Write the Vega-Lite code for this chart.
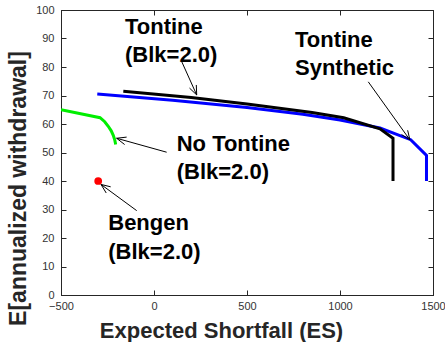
{
  "$schema": "https://vega.github.io/schema/vega-lite/v6.json",
  "width": 372,
  "height": 285,
  "autosize": {"type": "none"},
  "padding": {"left": 61, "top": 10, "right": 12, "bottom": 47},
  "background": "white",
  "config": {
    "font": "Liberation Sans",
    "view": {"stroke": "#262626", "strokeWidth": 1},
    "axis": {
      "domainColor": "#262626",
      "tickColor": "#262626",
      "labelColor": "#333333",
      "labelFont": "Liberation Sans",
      "labelFontSize": 11,
      "titleFont": "Liberation Sans",
      "titleFontSize": 22,
      "titleFontWeight": "bold",
      "titleColor": "#262626",
      "grid": false,
      "tickSize": -5,
      "format": "d",
      "labelFlush": false,
      "labelOverlap": false
    }
  },
  "datasets": {
    "lines": [
      {"series": "No Tontine", "i": 0, "x": -500, "y": 65},
      {"series": "No Tontine", "i": 1, "x": -290, "y": 62.2},
      {"series": "No Tontine", "i": 2, "x": -265, "y": 60.8},
      {"series": "No Tontine", "i": 3, "x": -246, "y": 59.2},
      {"series": "No Tontine", "i": 4, "x": -230, "y": 57.6},
      {"series": "No Tontine", "i": 5, "x": -219, "y": 56.0},
      {"series": "No Tontine", "i": 6, "x": -211, "y": 54.4},
      {"series": "No Tontine", "i": 7, "x": -206, "y": 52.8},
      {"series": "Tontine Synthetic", "i": 0, "x": -305, "y": 70.5},
      {"series": "Tontine Synthetic", "i": 1, "x": 100, "y": 68.3},
      {"series": "Tontine Synthetic", "i": 2, "x": 500, "y": 65.8},
      {"series": "Tontine Synthetic", "i": 3, "x": 800, "y": 63.4},
      {"series": "Tontine Synthetic", "i": 4, "x": 1000, "y": 61.4},
      {"series": "Tontine Synthetic", "i": 5, "x": 1215, "y": 58.6},
      {"series": "Tontine Synthetic", "i": 6, "x": 1380, "y": 54.5},
      {"series": "Tontine Synthetic", "i": 7, "x": 1465, "y": 49},
      {"series": "Tontine Synthetic", "i": 8, "x": 1465, "y": 40},
      {"series": "Tontine", "i": 0, "x": -165, "y": 71.5},
      {"series": "Tontine", "i": 1, "x": 200, "y": 69.3},
      {"series": "Tontine", "i": 2, "x": 500, "y": 67.0},
      {"series": "Tontine", "i": 3, "x": 850, "y": 64.0},
      {"series": "Tontine", "i": 4, "x": 1020, "y": 62.2},
      {"series": "Tontine", "i": 5, "x": 1215, "y": 58.3},
      {"series": "Tontine", "i": 6, "x": 1285, "y": 55},
      {"series": "Tontine", "i": 7, "x": 1285, "y": 40}
    ],
    "points": [
      {"series": "Bengen", "x": -300, "y": 40}
    ],
    "arrows": [
      {"x": 149, "y": 81.9, "x2": 229.6, "y2": 70.2},
      {"x": 227.4, "y": 73.7, "x2": 229.6, "y2": 70.2},
      {"x": 190.9, "y": 72.6, "x2": 229.6, "y2": 70.2},
      {"x": 1152, "y": 74.8, "x2": 1376, "y2": 54.4},
      {"x": 1363.7, "y": 57.8, "x2": 1376, "y2": 54.4},
      {"x": 1330.9, "y": 56.3, "x2": 1376, "y2": 54.4},
      {"x": 68, "y": 50.1, "x2": -201, "y2": 55.0},
      {"x": -158, "y": 52.8, "x2": -201, "y2": 55.0},
      {"x": -147.1, "y": 55.4, "x2": -201, "y2": 55.0},
      {"x": -93, "y": 29.6, "x2": -285, "y2": 38.8},
      {"x": -256.9, "y": 35.8, "x2": -285, "y2": 38.8},
      {"x": -232.9, "y": 37.96, "x2": -285, "y2": 38.8}
    ],
    "labels": [
      {"text": "Tontine", "x": -156, "y": 94.1},
      {"text": "(Blk=2.0)", "x": -156, "y": 84.2},
      {"text": "Tontine", "x": 758, "y": 89.5},
      {"text": "Synthetic", "x": 758, "y": 79.5},
      {"text": "No Tontine", "x": 122, "y": 53},
      {"text": "(Blk=2.0)", "x": 122, "y": 43.3},
      {"text": "Bengen", "x": -246, "y": 25.2},
      {"text": "(Blk=2.0)", "x": -246, "y": 15.2}
    ]
  },
  "resolve": {"axis": {"x": "independent", "y": "independent"}},
  "layer": [
    {
      "data": {"name": "lines"},
      "mark": {"type": "line", "strokeWidth": 3, "clip": true},
      "encoding": {
        "x": {
          "field": "x", "type": "quantitative",
          "scale": {"domain": [-500, 1500], "nice": false, "zero": false},
          "axis": {
            "orient": "bottom",
            "values": [-500, 0, 500, 1000, 1500],
            "title": "Expected Shortfall (ES)",
            "labelPadding": 10,
            "titleX": 160,
            "titleY": 35,
            "titleBaseline": "middle",
            "titleAlign": "center"
          }
        },
        "y": {
          "field": "y", "type": "quantitative",
          "scale": {"domain": [0, 100], "nice": false, "zero": false},
          "axis": {
            "orient": "left",
            "values": [0, 10, 20, 30, 40, 50, 60, 70, 80, 90, 100],
            "title": "E[annualized withdrawal]",
            "titleFontSize": 23,
            "labelPadding": 12,
            "titleX": -43,
            "titleY": 178,
            "titleAngle": -90,
            "titleBaseline": "middle",
            "titleAlign": "center"
          }
        },
        "order": {"field": "i", "type": "quantitative"},
        "color": {
          "field": "series", "type": "nominal",
          "scale": {"domain": ["No Tontine", "Tontine Synthetic", "Tontine", "Bengen"], "range": ["#00ee00", "#0000ff", "#000000", "#ff0000"]},
          "legend": null
        }
      }
    },
    {
      "data": {"name": "points"},
      "mark": {"type": "point", "filled": true, "size": 60, "opacity": 1, "color": "#ff0000"},
      "encoding": {
        "x": {"field": "x", "type": "quantitative", "scale": {"domain": [-500, 1500], "nice": false, "zero": false}, "axis": {"orient": "top", "values": [-500, 0, 500, 1000, 1500], "labels": false, "title": null}},
        "y": {"field": "y", "type": "quantitative", "scale": {"domain": [0, 100], "nice": false, "zero": false}, "axis": {"orient": "right", "values": [0, 10, 20, 30, 40, 50, 60, 70, 80, 90, 100], "labels": false, "title": null}}
      }
    },
    {
      "data": {"name": "arrows"},
      "mark": {"type": "rule", "color": "#000000", "strokeWidth": 1},
      "encoding": {
        "x": {"field": "x", "type": "quantitative", "scale": {"domain": [-500, 1500], "nice": false, "zero": false}, "axis": null},
        "y": {"field": "y", "type": "quantitative", "scale": {"domain": [0, 100], "nice": false, "zero": false}, "axis": null},
        "x2": {"field": "x2"},
        "y2": {"field": "y2"}
      }
    },
    {
      "data": {"name": "labels"},
      "mark": {"type": "text", "align": "left", "baseline": "middle", "fontSize": 22, "fontWeight": "bold", "font": "Liberation Sans", "color": "#000000"},
      "encoding": {
        "x": {"field": "x", "type": "quantitative", "scale": {"domain": [-500, 1500], "nice": false, "zero": false}, "axis": null},
        "y": {"field": "y", "type": "quantitative", "scale": {"domain": [0, 100], "nice": false, "zero": false}, "axis": null},
        "text": {"field": "text"}
      }
    }
  ]
}
